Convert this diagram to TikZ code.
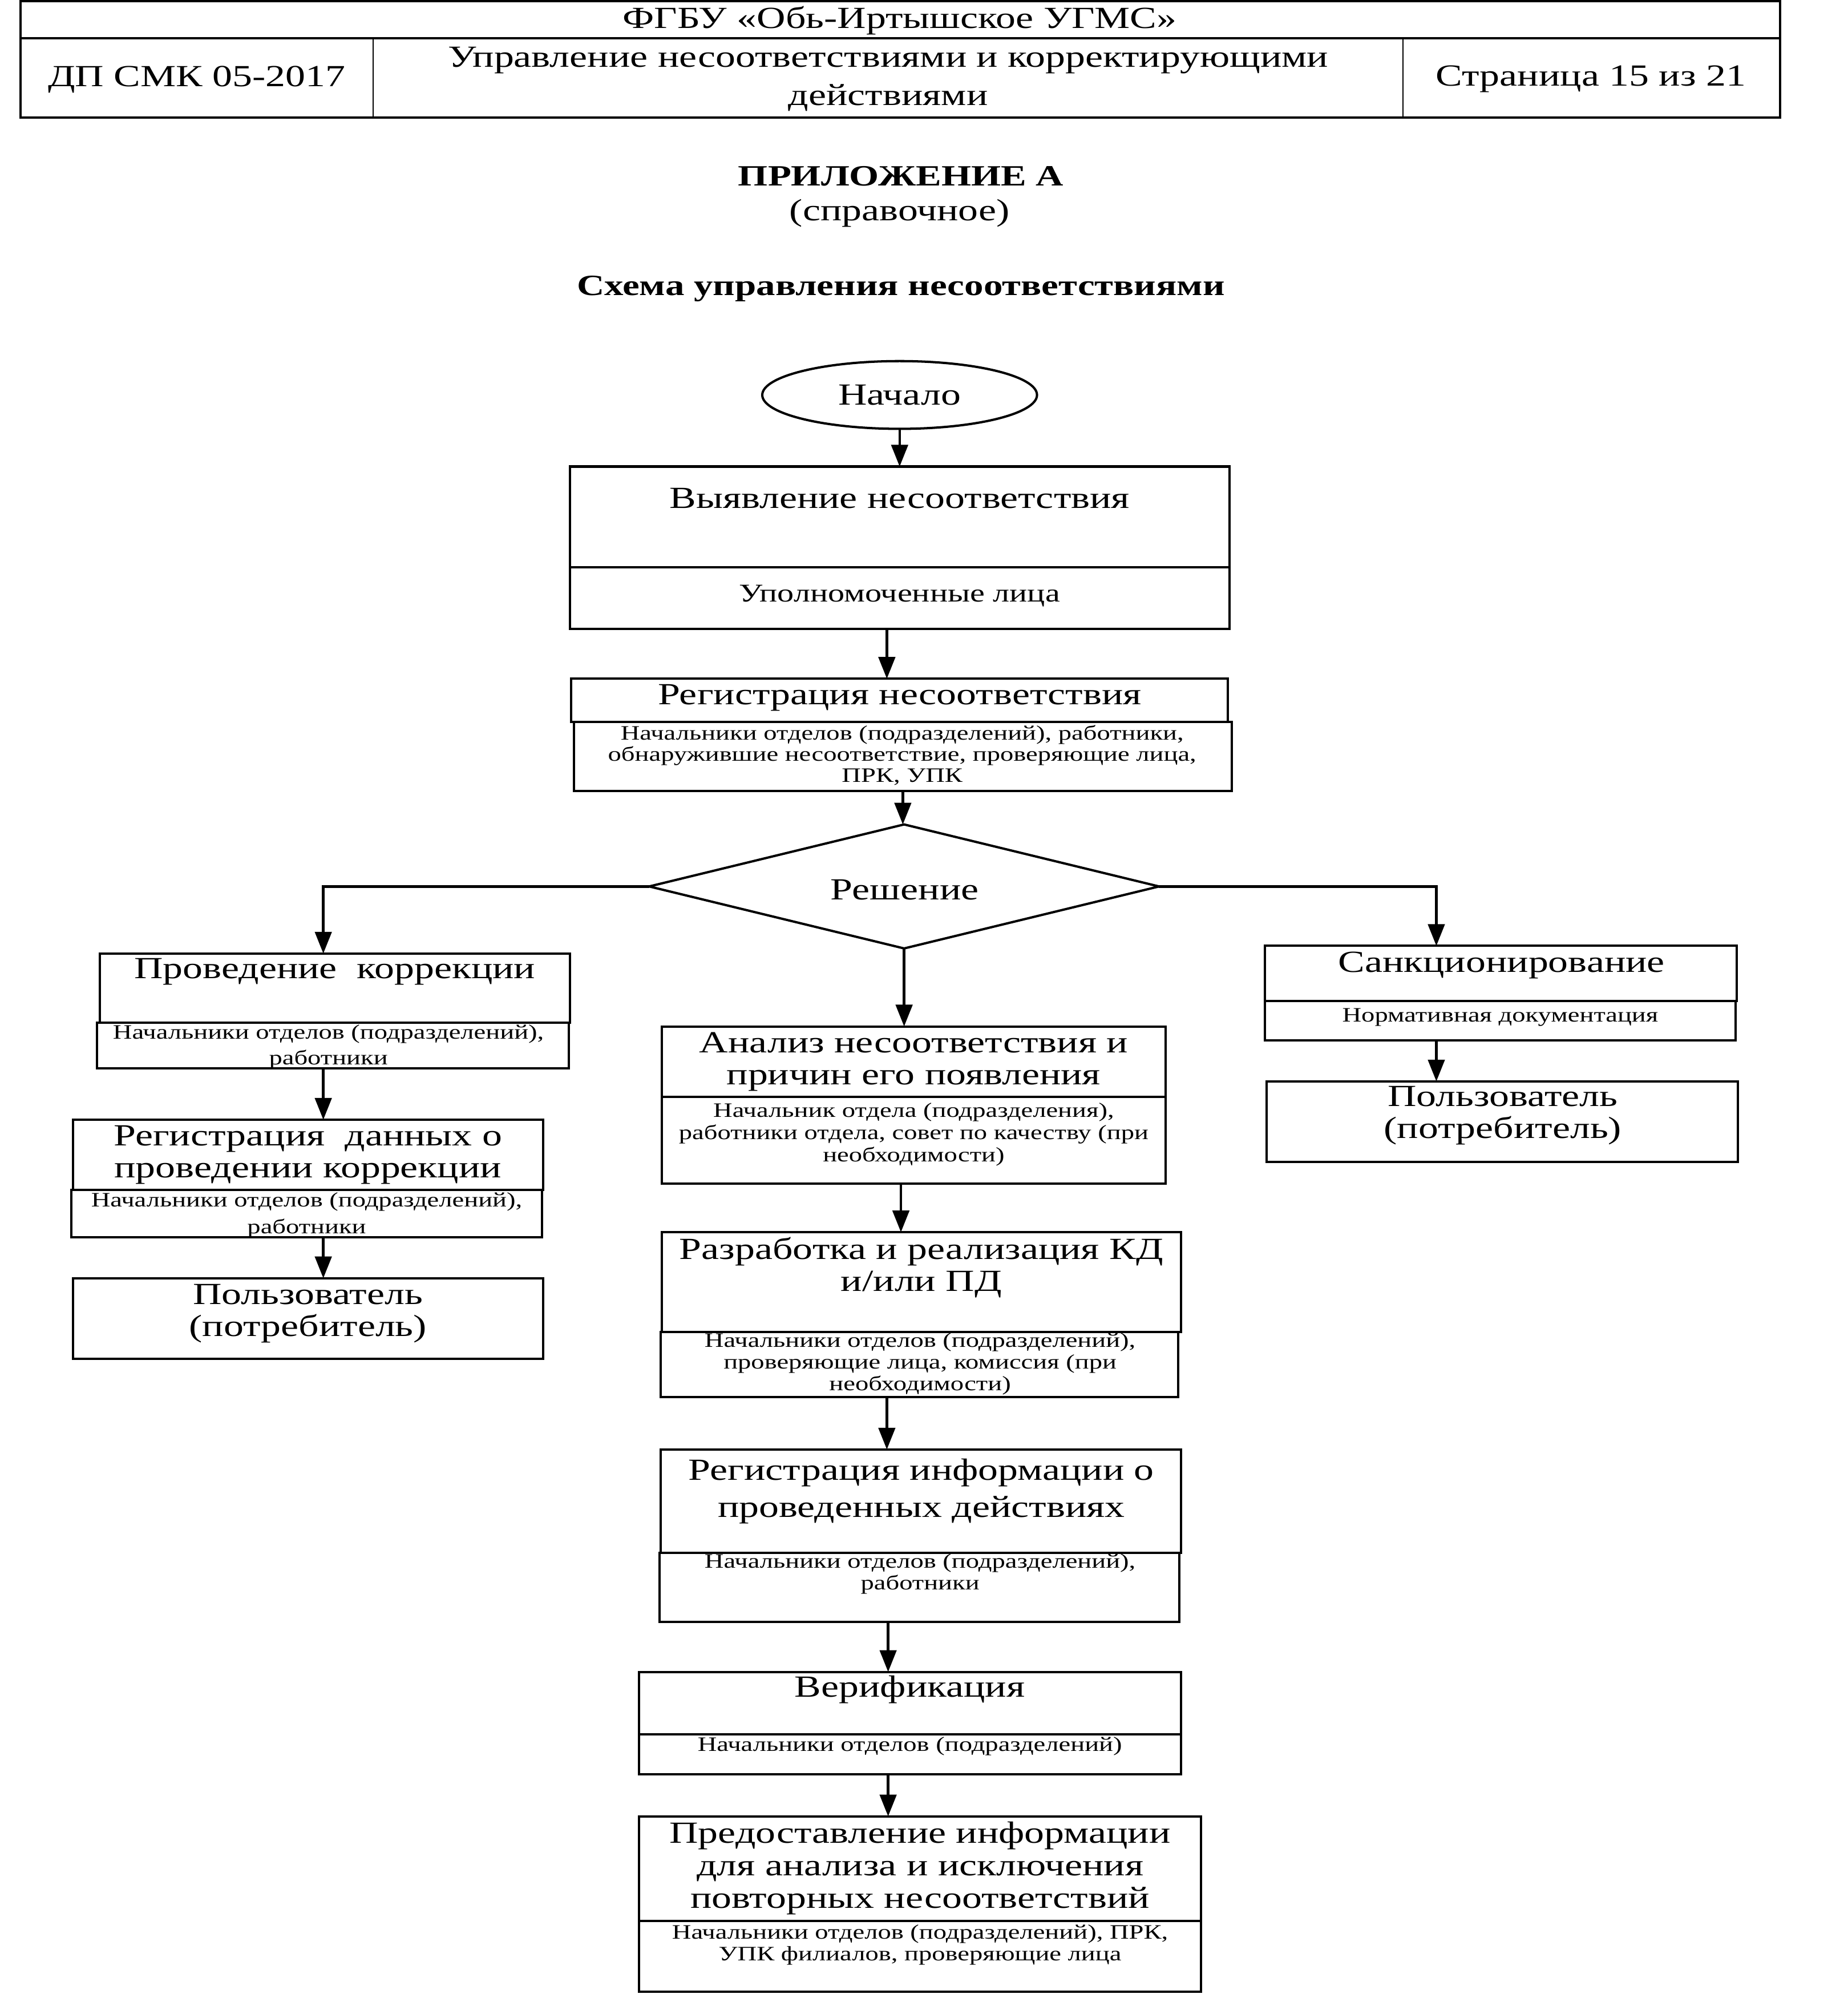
\documentclass[tikz,border=0pt]{standalone}
\usepackage{fontspec}
\setmainfont{Liberation Serif}[FakeStretch=1.3]
\usetikzlibrary{shapes.geometric,arrows.meta,fit,calc}
\begin{document}
\begin{tikzpicture}[x=1pt,y=-1pt,
 box/.style={draw, line width=1.8pt, inner sep=0pt, outer sep=0pt},
 thin/.style={draw, line width=1pt, inner sep=0pt, outer sep=0pt},
 big/.style={font=\fontsize{24}{25}\selectfont, align=center, inner sep=0pt},
 mid/.style={font=\fontsize{20}{21}\selectfont, align=center, inner sep=0pt},
 small/.style={font=\fontsize{16}{17}\selectfont, align=center, inner sep=0pt},
 ttl/.style={font=\fontsize{23}{25}\selectfont\bfseries, align=center, inner sep=0pt},
 arr/.style={line width=2pt, -{Triangle[length=17pt,width=13pt]}}]
\useasboundingbox (0,0) rectangle (1446,1560);

% ---------- header ----------
\node[thin, fit={(16,30) (292,92)}] (c1) {};
\node[thin, fit={(292,30) (1098,92)}] (c2) {};
\node[thin, fit={(1098,30) (1393,92)}] (c3) {};
\node[box, fit={(16,1) (1393,30)}] (hrow) {};
\node[box, fit={(16,1) (1393,92)}] (hdr) {};
\node[big] (h0) at (704,16) {ФГБУ «Обь-Иртышское УГМС»};
\node[big] (h1) at (154,62) {ДП СМК 05-2017};
\node[big, font=\fontsize{24}{30}\selectfont] (h2) at (695,62) {Управление несоответствиями и корректирующими\\действиями};
\node[big] (h3) at (1245,62) {Страница 15 из 21};

% ---------- titles ----------
\node[ttl] (ap) at (705,138) {ПРИЛОЖЕНИЕ А};
\node[big] (sp) at (704,167) {(справочное)};
\node[ttl] (sch) at (705,226) {Схема управления несоответствиями};

% ---------- start ----------
\node[ellipse, box, minimum width=215pt, minimum height=53pt, big] (start) at (704,309) {Начало};

% ---------- box 1 ----------
\node[box, fit={(446,365) (962,444)}] (b1t) {};
\node[box, fit={(446,444) (962,492)}] (b1s) {};
\node[big] (b1tt) at (704,390) {Выявление несоответствия};
\node[mid] (b1st) at (704,466) {Уполномоченные лица};

% ---------- box 2 ----------
\node[box, fit={(447,531) (961,565)}] (b2t) {};
\node[box, fit={(449,565) (964,619)}] (b2s) {};
\node[big] (b2tt) at (704,546) {Регистрация несоответствия};
\node[small, font=\fontsize{16}{16.5}\selectfont] (b2st) at (706,591) {Начальники отделов (подразделений), работники,\\обнаружившие несоответствие, проверяющие лица,\\ПРК, УПК};

% ---------- decision ----------
\node[diamond, box, minimum width=399pt, minimum height=97pt] (dec) at (707.5,693.5) {};
\node[big] (dect) at (708,696) {Решение};

% ---------- left column ----------
\node[box, fit={(78,746) (446,800)}] (pk) {};
\node[box, fit={(76,800) (445,836)}] (pkb) {};
\node[big] (pkt) at (262,760) {Проведение~ коррекции};
\begin{scope}
\clip (76,800) rectangle (445,836);
\node[small, font=\fontsize{16}{20}\selectfont] (pkbt) at (257,819) {Начальники отделов (подразделений),\\работники};
\end{scope}

\node[box, fit={(57,876) (425,931)}] (rd) {};
\node[box, fit={(56,931) (424,968)}] (rdb) {};
\node[big] (rdt) at (241,903.5) {Регистрация~ данных о\\проведении коррекции};
\begin{scope}
\clip (56,931) rectangle (424,968);
\node[small, font=\fontsize{16}{21}\selectfont] (rdbt) at (240,950.5) {Начальники отделов (подразделений),\\работники};
\end{scope}

\node[box, fit={(57,1000) (425,1063)}] (pl) {};
\node[big] (plt) at (241,1027.5) {Пользователь\\(потребитель)};

% ---------- middle column ----------
\node[box, fit={(518,803) (912,858)}] (an) {};
\node[box, fit={(518,858) (912,926)}] (anb) {};
\node[big] (ant) at (715,830.5) {Анализ несоответствия и\\причин его появления};
\node[small, font=\fontsize{16}{17.5}\selectfont] (anbt) at (715,887.5) {Начальник отдела (подразделения),\\работники отдела, совет по качеству (при\\необходимости)};

\node[box, fit={(518,964) (924,1042)}] (rz) {};
\node[box, fit={(517,1042) (922,1093)}] (rzb) {};
\node[big] (rzt) at (721,991.5) {Разработка и реализация КД\\и/или ПД};
\node[small] (rzbt) at (720,1067) {Начальники отделов (подразделений),\\проверяющие лица, комиссия (при\\необходимости)};

\node[box, fit={(517,1134) (924,1215)}] (ri) {};
\node[box, fit={(516,1215) (923,1269)}] (rib) {};
\node[big, font=\fontsize{24}{29}\selectfont] (rit) at (721,1166.5) {Регистрация информации о\\проведенных действиях};
\node[small] (ribt) at (720,1231.5) {Начальники отделов (подразделений),\\работники};

\node[box, fit={(500,1308) (924,1357)}] (vf) {};
\node[box, fit={(500,1357) (924,1388)}] (vfb) {};
\node[big] (vft) at (712,1322) {Верификация};
\node[small] (vfbt) at (712,1366) {Начальники отделов (подразделений)};

\node[box, fit={(500,1421) (940,1503)}] (pi) {};
\node[box, fit={(500,1503) (940,1558)}] (pib) {};
\node[big, font=\fontsize{24}{25.5}\selectfont] (pit) at (720,1461.5) {Предоставление информации\\для анализа и исключения\\повторных несоответствий};
\node[small] (pibt) at (720,1521.5) {Начальники отделов (подразделений), ПРК,\\УПК филиалов, проверяющие лица};

% ---------- right column ----------
\node[box, fit={(990,740) (1359,783)}] (sk) {};
\node[box, fit={(990,783) (1358,814)}] (skb) {};
\node[big] (skt) at (1175,755) {Санкционирование};
\node[small] (skbt) at (1174,796) {Нормативная документация};

\node[box, fit={(991,846) (1360,909)}] (pr) {};
\node[big] (prt) at (1176,872.5) {Пользователь\\(потребитель)};

% ---------- connectors ----------
\draw[arr] (start.south) -- (b1t.north);
\draw[arr] ([xshift=-10pt]b1s.south) -- ([xshift=-10pt]b2t.north);
\draw[arr] (b2s.south) -- (b2s.south |- dec.north);
\draw[arr] (dec.west) -| ([xshift=-9pt]pk.north);
\draw[arr] (dec.east) -| ([xshift=-50.5pt]sk.north);
\draw[arr] (dec.south) -- (dec.south |- an.north);
\draw[arr] ([xshift=-7.5pt]pkb.south) -- ([xshift=-7.5pt]pkb.south |- rd.north);
\draw[arr] ([xshift=13pt]rdb.south) -- ([xshift=13pt]rdb.south |- pl.north);
\draw[arr] ([xshift=-10pt]anb.south) -- ([xshift=-10pt]anb.south |- rz.north);
\draw[arr] ([xshift=-25.5pt]rzb.south) -- ([xshift=-25.5pt]rzb.south |- ri.north);
\draw[arr] ([xshift=-24.5pt]rib.south) -- ([xshift=-24.5pt]rib.south |- vf.north);
\draw[arr] ([xshift=-17pt]vfb.south) -- ([xshift=-17pt]vfb.south |- pi.north);
\draw[arr] ([xshift=-50pt]skb.south) -- ([xshift=-50pt]skb.south |- pr.north);
\end{tikzpicture}
\end{document}
